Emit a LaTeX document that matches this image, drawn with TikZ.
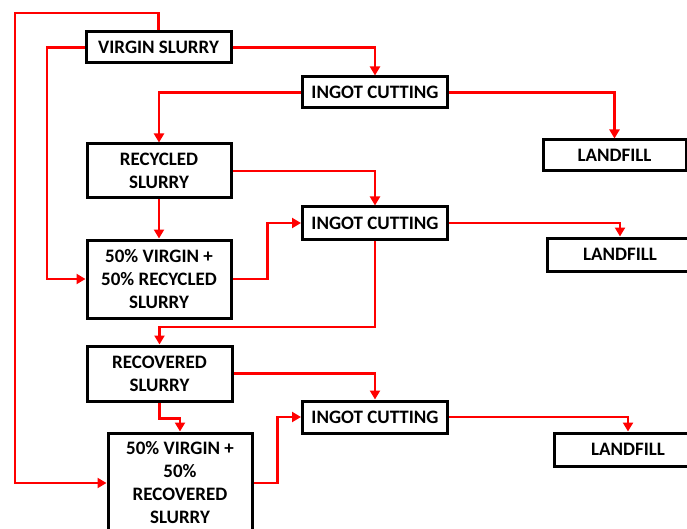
\documentclass[tikz,border=0pt]{standalone}
\usepackage{fontspec}
\setmainfont{Carlito}
\usetikzlibrary{arrows.meta}
\definecolor{flowred}{RGB}{255,0,0}
\tikzset{
  box/.style={draw=black, line width=3pt, fill=white, inner sep=0pt, align=center,
    font=\fontsize{19}{23}\selectfont\bfseries},
  flow/.style={draw=flowred, line width=2.6pt, line join=miter},
  flowarr/.style={flow, -{Triangle[length=9pt,width=10pt]}},
}
\begin{document}
\begin{tikzpicture}[x=1pt,y=-1pt]
\useasboundingbox (0,0) rectangle (687,529);
% nodes
\node[box, minimum width=145pt, minimum height=31pt] (vs) at (158.5,47.5) {VIRGIN SLURRY};
\node[box, minimum width=145pt, minimum height=31pt] (ic1) at (375,92.5) {INGOT CUTTING};
\node[box, minimum width=144pt, minimum height=54pt] (rec) at (159,171) {RECYCLED\\SLURRY};
\node[box, minimum width=143pt, minimum height=31pt] (lf1) at (614.5,155.5) {LANDFILL};
\node[box, minimum width=145pt, minimum height=32pt] (ic2) at (375,223) {INGOT CUTTING};
\node[box, minimum width=144pt, minimum height=78pt] (mix1) at (159,279) {50\% VIRGIN +\\50\% RECYCLED\\SLURRY};
\node[box, minimum width=146pt, minimum height=33pt] (lf2) at (620,254.5) {LANDFILL};
\node[box, minimum width=145pt, minimum height=55pt] (recov) at (159.5,373.5) {RECOVERED\\SLURRY};
\node[box, minimum width=145pt, minimum height=32pt] (ic3) at (375,417) {INGOT CUTTING};
\node[box, minimum width=144pt, minimum height=100pt] (mix2) at (180,483) {50\% VIRGIN +\\50\%\\RECOVERED\\SLURRY};
\node[box, minimum width=148pt, minimum height=33pt] (lf3) at (628,449.5) {LANDFILL};
% bend coordinates
\coordinate (outer) at (15,13);
\coordinate (inner) at (47,0);
\coordinate (lowbend) at (0,327);
% connectors
\draw[flowarr] (vs.north) |- (outer) |- (mix2.west);
\draw[flowarr] (vs.west) -- (vs.west -| inner) |- (mix1.west);
\draw[flowarr] (vs.east) -| (ic1.north);
\draw[flowarr] (ic1.west) -| (rec.north);
\draw[flowarr] (ic1.east) -| (lf1.north);
\draw[flowarr] (rec.east) -| (ic2.north);
\draw[flowarr] (rec.south) -- (mix1.north);
\draw[flowarr] (mix1.east) -- ++(35,0) |- (ic2.west);
\draw[flowarr] (ic2.east) -| (lf2.north);
\draw[flowarr] (ic2.south) -- (ic2.south |- lowbend) -| (recov.north);
\draw[flowarr] (recov.east) -| (ic3.north);
\draw[flowarr] (recov.south) -- ++(0,16) -| (mix2.north);
\draw[flowarr] (mix2.east) -- ++(24,0) |- (ic3.west);
\draw[flowarr] (ic3.east) -| (lf3.north);
\end{tikzpicture}
\end{document}
